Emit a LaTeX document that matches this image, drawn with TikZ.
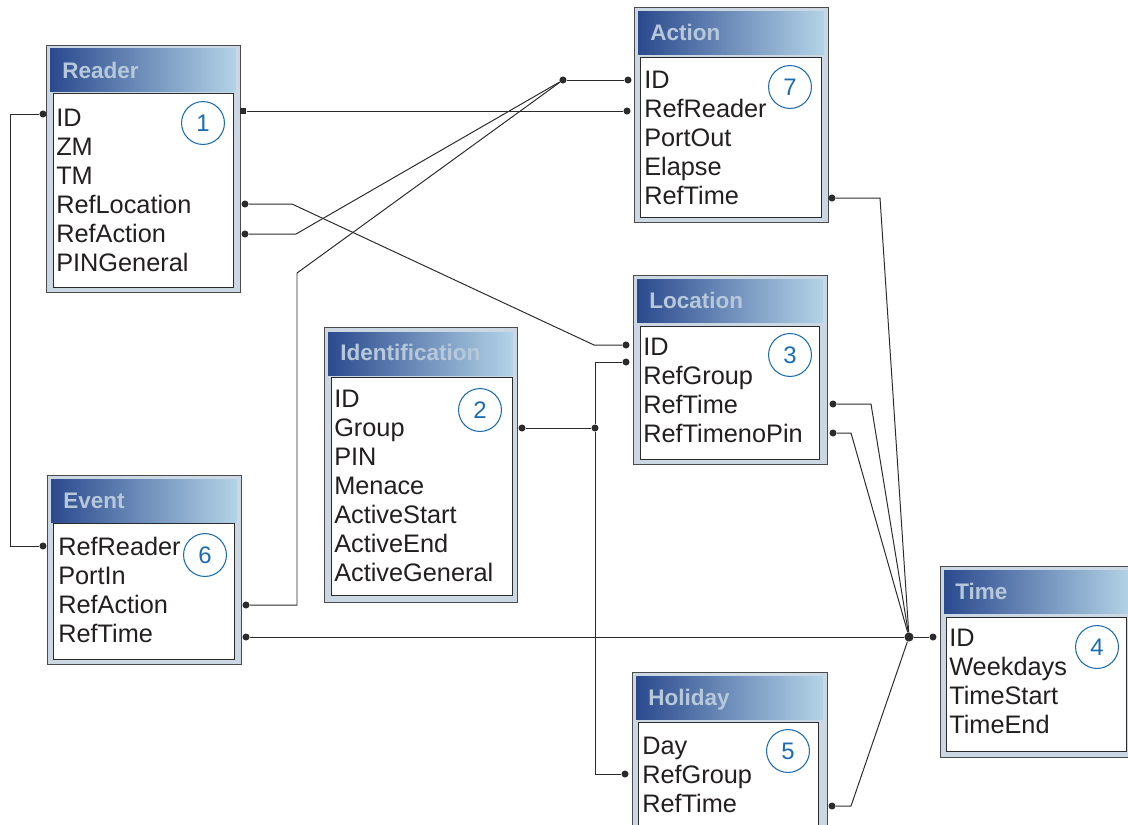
\documentclass[tikz,border=0pt]{standalone}
\usepackage{fontspec}
\setmainfont{Liberation Sans}
\usepackage{xcolor}
\definecolor{DBdark}{HTML}{2B4A8E}
\definecolor{DBlight}{HTML}{B3D3E7}
\definecolor{DBframe}{HTML}{CBD8E4}
\definecolor{DBtitle}{HTML}{B7C8DA}
\definecolor{DBnum}{HTML}{1B6CB1}
\definecolor{DBline}{HTML}{2B2B2B}
\definecolor{DBtext}{HTML}{231F20}
\usepackage{tikz}
\usetikzlibrary{calc, positioning}

\begin{document}
\begin{tikzpicture}[x=0.025cm, y=-0.025cm]
    \tikzset{
  tblframe/.style={draw=DBline!85, fill=DBframe, line width=0.7pt},
  tblhead/.style={left color=DBdark, right color=DBlight},
  tblbody/.style={draw=DBline, fill=white, line width=0.7pt},
  tbltitle/.style={anchor=base west, inner sep=0, text=DBtitle, font=\fontsize{16}{19}\selectfont\bfseries},
  fieldlab/.style={anchor=base west, inner sep=0, text=DBtext, font=\fontsize{18}{21}\selectfont},
  numring/.style={circle, draw=DBnum, line width=0.75pt, minimum size=30.5pt, inner sep=0, text=DBnum, font=\fontsize{17}{20}\selectfont},
  pindot/.style={circle, fill=DBline, inner sep=0, minimum size=5pt},
  pinsq/.style={rectangle, fill=DBline, inner sep=0, minimum size=4.6pt},
  joint/.style={circle, fill=DBline, inner sep=0, minimum size=6.5pt},
  link/.style={draw=DBline, line width=0.7pt},
}
\useasboundingbox (0,0) rectangle (1128,824);
\clip (0,0) rectangle (1128,824);

% ── Reader (1) ──────────────────────────────────────────────
\begin{scope}[shift={(46,45)}]
  \draw[tblframe] (0,0) rectangle (194,247);
  \shade[tblhead] (4,3) rectangle (190,46);
  \draw[tblbody] (7,48) rectangle (187,242);
  \node[tbltitle] (reader-title) at (16,33) {Reader};
  \foreach \f [count=\i from 0] in {ID,ZM,TM,RefLocation,RefAction,PINGeneral}
    \node[fieldlab] (reader-f\i) at (10,81+29.1*\i) {\f};
  \node[numring] (reader-num) at (157,78) {1};
\end{scope}

% ── Action (7) ──────────────────────────────────────────────
\begin{scope}[shift={(634,7)}]
  \draw[tblframe] (0,0) rectangle (194,215);
  \shade[tblhead] (4,4) rectangle (190,47);
  \draw[tblbody] (6,50) rectangle (187,210);
  \node[tbltitle] (action-title) at (16,33) {Action};
  \foreach \f [count=\i from 0] in {ID,RefReader,PortOut,Elapse,RefTime}
    \node[fieldlab] (action-f\i) at (10,81+29.1*\i) {\f};
  \node[numring] (action-num) at (156,80) {7};
\end{scope}

% ── Location (3) ────────────────────────────────────────────
\begin{scope}[shift={(633,275)}]
  \draw[tblframe] (0,0) rectangle (194,189);
  \shade[tblhead] (4,4) rectangle (190,47);
  \draw[tblbody] (7,51) rectangle (186,184);
  \node[tbltitle] (location-title) at (16,33) {Location};
  \foreach \f [count=\i from 0] in {ID,RefGroup,RefTime,RefTimenoPin}
    \node[fieldlab] (location-f\i) at (10,80+29.1*\i) {\f};
  \node[numring] (location-num) at (157,80) {3};
\end{scope}

% ── Identification (2) ──────────────────────────────────────
\begin{scope}[shift={(324,327)}]
  \draw[tblframe] (0,0) rectangle (193,275);
  \shade[tblhead] (4,5) rectangle (189,48);
  \draw[tblbody] (7,50) rectangle (188,268);
  \node[tbltitle] (ident-title) at (16,33) {Identification};
  \foreach \f [count=\i from 0] in {ID,Group,PIN,Menace,ActiveStart,ActiveEnd,ActiveGeneral}
    \node[fieldlab] (ident-f\i) at (10,80+29.1*\i) {\f};
  \node[numring] (ident-num) at (156,83) {2};
\end{scope}

% ── Event (6) ───────────────────────────────────────────────
\begin{scope}[shift={(47,475)}]
  \draw[tblframe] (0,0) rectangle (194,189);
  \shade[tblhead] (4,4) rectangle (190,47);
  \draw[tblbody] (6,48) rectangle (187,184);
  \node[tbltitle] (event-title) at (16,33) {Event};
  \foreach \f [count=\i from 0] in {RefReader,PortIn,RefAction,RefTime}
    \node[fieldlab] (event-f\i) at (11,80+29.1*\i) {\f};
  \node[numring] (event-num) at (158,80) {6};
\end{scope}

% ── Holiday (5) ─────────────────────────────────────────────
\begin{scope}[shift={(632,672)}]
  \draw[tblframe] (0,0) rectangle (195,175);
  \shade[tblhead] (4,4) rectangle (191,47);
  \draw[tblbody] (6,50) rectangle (186,168);
  \node[tbltitle] (holiday-title) at (16,33) {Holiday};
  \foreach \f [count=\i from 0] in {Day,RefGroup,RefTime}
    \node[fieldlab] (holiday-f\i) at (10,82+29.1*\i) {\f};
  \node[numring] (holiday-num) at (156,79) {5};
\end{scope}

% ── Time (4) ────────────────────────────────────────────────
\begin{scope}[shift={(940,566)}]
  \draw[tblframe] (0,0) rectangle (194,191);
  \shade[tblhead] (4,4) rectangle (190,47);
  \draw[tblbody] (6,51) rectangle (186,185);
  \node[tbltitle] (time-title) at (15,33) {Time};
  \foreach \f [count=\i from 0] in {ID,Weekdays,TimeStart,TimeEnd}
    \node[fieldlab] (time-f\i) at (9,80+29.1*\i) {\f};
  \node[numring] (time-num) at (157,81) {4};
\end{scope}

% ── Pins and joints ─────────────────────────────────────────
\node[pindot] (reader-id-w)     at (43,114)  {};
\node[pinsq]  (reader-id-e)     at (243,111) {};
\node[pindot] (reader-loc-e)    at (245,204) {};
\node[pindot] (reader-act-e)    at (245,234) {};
\node[pindot] (action-id-w)     at (628,80)  {};
\node[pindot] (action-ref-w)    at (627,111) {};
\node[pindot] (action-time-e)   at (832,198) {};
\node[pindot] (location-id-w)   at (626,345) {};
\node[pindot] (location-grp-w)  at (626,362) {};
\node[pindot] (location-time-e) at (833,404) {};
\node[pindot] (location-nopin-e) at (833,433) {};
\node[pindot] (ident-grp-e)     at (522,428) {};
\node[pindot] (event-ref-w)     at (43,546)  {};
\node[pindot] (event-act-e)     at (246,605) {};
\node[pindot] (event-time-e)    at (246,637) {};
\node[pindot] (holiday-grp-w)   at (625,774) {};
\node[pindot] (holiday-time-e)  at (832,806) {};
\node[pindot] (time-id-w)       at (933,637) {};
\node[pindot] (jAction)         at (563,80)  {};
\node[pindot] (jGroup)          at (595,428) {};
\node[joint]  (jTime)           at (909,637) {};

% ── Reader links ────────────────────────────────────────────
\draw[link] (reader-id-w) -- ++(-33,0) |- (event-ref-w);
\draw[link] (reader-id-e) -- (action-ref-w);
\draw[link] (reader-loc-e) -- ++(47,0) -- ++(302,141) -- (location-id-w);
\draw[link] (reader-act-e) -- ++(51,0) -- (jAction);

% ── Action links ────────────────────────────────────────────
\draw[link] (event-act-e) -- ++(51,0) -- ++(0,-332) -- (jAction);
\draw[link] (jAction) -- (action-id-w);

% ── Group links ─────────────────────────────────────────────
\draw[link] (ident-grp-e) -- (jGroup);
\draw[link] (location-grp-w) -| (jGroup) |- (holiday-grp-w);

% ── Time links ──────────────────────────────────────────────
\draw[link] (action-time-e) -- ++(48,0) -- (jTime);
\draw[link] (location-time-e) -- ++(38,0) -- (jTime);
\draw[link] (location-nopin-e) -- ++(18,0) -- (jTime);
\draw[link] (holiday-time-e) -- ++(19,0) -- (jTime);
\draw[link] (event-time-e) -- (jTime);
\draw[link] (jTime) -- (time-id-w);

  \end{tikzpicture}
\end{document}
